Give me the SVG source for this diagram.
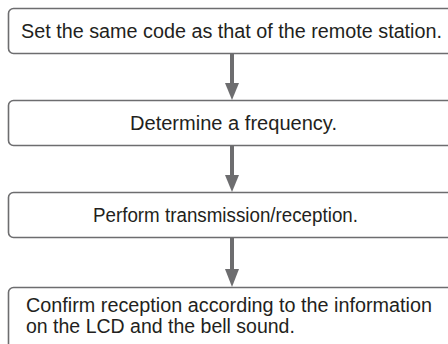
<svg xmlns="http://www.w3.org/2000/svg" width="448" height="344" viewBox="0 0 448 344">
<defs>
<style>
.box{fill:#fff;stroke:#6d6d6f;stroke-width:1.6}
.t{font-family:"Liberation Sans",Arial,sans-serif;font-size:19.5px;fill:#231f20}
.c{stroke:#6d6d6f;stroke-width:4;fill:none}
.h{fill:#6d6d6f}
</style>
</defs>
<rect width="448" height="344" fill="#fff"/>
<g id="n1"><rect class="box" x="8.5" y="8.5" width="460" height="45" rx="5"/><text class="t" x="21" y="38" textLength="421" lengthAdjust="spacingAndGlyphs">Set the same code as that of the remote station.</text></g>
<g id="n2"><rect class="box" x="8.5" y="100.5" width="460" height="45" rx="5"/><text class="t" x="130" y="130" textLength="207" lengthAdjust="spacingAndGlyphs">Determine a frequency.</text></g>
<g id="n3"><rect class="box" x="8.5" y="192.5" width="460" height="45" rx="5"/><text class="t" x="93" y="222" textLength="265" lengthAdjust="spacingAndGlyphs">Perform transmission/reception.</text></g>
<g id="n4"><rect class="box" x="8.5" y="287.5" width="460" height="80" rx="5"/><text class="t" x="26" y="312" textLength="406" lengthAdjust="spacingAndGlyphs">Confirm reception according to the information</text><text class="t" x="26" y="333">on the LCD and the bell sound.</text></g>
<g id="connectors">
<line class="c" x1="232" y1="54" x2="232" y2="84"/><polygon class="h" points="225,83 239,83 232,100"/>
<line class="c" x1="232" y1="146" x2="232" y2="176"/><polygon class="h" points="225,175 239,175 232,192"/>
<line class="c" x1="232" y1="238" x2="232" y2="270"/><polygon class="h" points="225,269 239,269 232,287"/>
</g>
</svg>
